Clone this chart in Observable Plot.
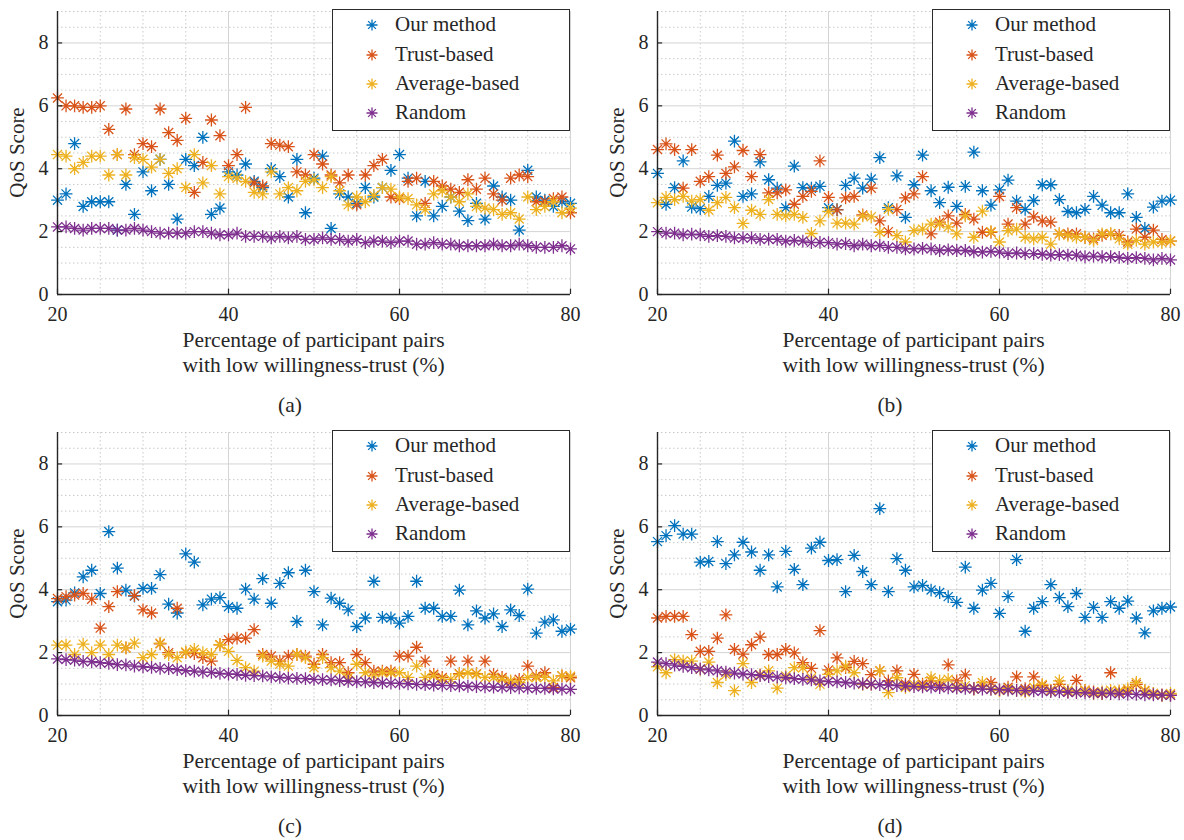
<!DOCTYPE html>
<html>
<head>
<meta charset="utf-8">
<script src="https://cdn.jsdelivr.net/npm/d3@7"></script>
<script src="https://cdn.jsdelivr.net/npm/@observablehq/plot@0.6"></script>
<style>
  body { margin: 0; background: #fff; }
  #fig { position: relative; width: 1184px; height: 840px; overflow: hidden; background: #fff;
         font-family: "Liberation Serif", "Times New Roman", "DejaVu Serif", serif; color: #262626; }
  .panel { position: absolute; }
  .xt { position: absolute; width: 513px; text-align: center; font-size: 21.5px; line-height: 25px; white-space: nowrap; }
  .cap { position: absolute; width: 100px; text-align: center; font-size: 21.5px; line-height: 25px; }
  .yl { position: absolute; width: 140px; height: 25px; line-height: 25px; text-align: center; font-size: 21px;
        transform: rotate(-90deg); white-space: nowrap; }
  .leg { position: absolute; width: 238px; height: 122px; border: 1.4px solid #2b2b2b; background: #fff; box-sizing: border-box; }
  .leg svg { position: absolute; overflow: visible; }
  .leg span { position: absolute; font-size: 21px; line-height: 25px; white-space: nowrap; }
</style>
</head>
<body>
<div id="fig"></div>
<script>
// ---------- data ----------
const xValues = [20,21,22,23,24,25,26,27,28,29,30,31,32,33,34,35,36,37,38,39,40,41,42,43,44,45,46,47,48,49,50,
                 51,52,53,54,55,56,57,58,59,60,61,62,63,64,65,66,67,68,69,70,71,72,73,74,75,76,77,78,79,80];
const seriesNames = ["Our method", "Trust-based", "Average-based", "Random"];
const seriesColors = ["#0072BD", "#D95319", "#EDB120", "#7E2F8E"];
const xTicks = [20, 40, 60, 80];
const yTicks = [0, 2, 4, 6, 8];
const xMinorTicks = [25, 30, 35, 45, 50, 55, 65, 70, 75];
const yMinorTicks = [0.5, 1, 1.5, 2.5, 3, 3.5, 4.5, 5, 5.5, 6.5, 7, 7.5, 8.5, 9];
const panelLabels = ["(a)", "(b)", "(c)", "(d)"];
const xTitle = ["Percentage of participant pairs", "with low willingness-trust (%)"];
const yTitle = "QoS Score";

// panel (a)
const aOurs = [3.0,3.2,4.8,2.8,2.95,2.95,2.95,2.05,3.5,2.55,3.9,3.3,4.3,3.5,2.4,4.3,4.1,5.0,2.55,2.75,3.9,3.8,4.15,3.6,3.4,4.0,3.75,3.1,4.3,2.6,3.7,4.4,2.1,3.2,3.1,2.9,3.4,3.1,3.4,3.95,4.45,3.7,2.5,3.6,2.5,2.8,3.1,2.65,2.35,2.9,2.4,3.45,3.1,3.0,2.05,3.95,3.1,3.0,2.8,2.95,2.9];
const aTrust = [6.25,6.0,6.0,5.95,5.95,6.0,5.25,4.45,5.9,4.45,4.8,4.7,5.9,5.15,4.9,5.6,3.25,4.2,5.55,5.05,4.1,4.45,5.95,3.55,3.45,4.8,4.75,4.7,3.9,3.8,4.45,4.15,3.8,3.55,3.8,2.85,3.8,4.1,4.3,3.1,3.05,3.6,3.7,2.9,3.6,3.45,3.35,3.25,3.65,3.35,3.7,3.2,3.0,3.7,3.8,3.75,2.95,2.95,3.05,3.1,2.6];
const aAverage = [4.45,4.4,4.0,4.2,4.4,4.4,3.8,4.45,3.8,4.35,4.3,4.05,4.3,3.85,4.0,3.4,4.45,3.55,4.1,3.2,3.75,3.7,3.6,3.25,3.2,3.9,3.2,3.4,3.3,3.6,3.65,3.4,3.75,3.3,2.85,3.1,2.95,3.15,3.4,3.35,3.1,3.05,2.85,2.7,3.2,3.3,3.1,2.95,3.2,2.8,2.75,2.7,2.55,2.6,2.4,3.1,2.7,2.8,2.95,2.6,2.75];
const aRandom = [2.15,2.15,2.1,2.05,2.1,2.1,2.1,2.05,2.05,2.1,2.05,2.0,1.95,1.95,1.95,1.95,2.0,2.0,1.95,1.9,1.9,1.95,1.85,1.85,1.85,1.8,1.85,1.8,1.85,1.75,1.75,1.8,1.75,1.75,1.7,1.75,1.65,1.7,1.7,1.65,1.7,1.7,1.6,1.6,1.65,1.6,1.6,1.55,1.55,1.55,1.55,1.6,1.55,1.55,1.6,1.55,1.5,1.5,1.5,1.55,1.45];

// panel (b)
const bOurs = [3.85,2.87,3.4,4.25,2.78,2.73,3.12,3.47,3.54,4.88,3.12,3.2,4.22,3.65,3.38,2.76,4.08,3.4,3.38,3.44,2.76,2.7,3.47,3.7,3.38,3.67,4.35,2.76,3.77,2.45,3.49,4.43,3.3,2.92,3.41,2.8,3.44,4.53,3.3,2.84,3.33,3.64,2.97,2.71,2.99,3.49,3.49,3.02,2.64,2.6,2.71,3.12,2.84,2.6,2.6,3.2,2.45,2.1,2.78,2.97,3.0];
const bTrust = [4.61,4.79,4.61,3.38,4.61,3.6,3.75,4.43,3.85,4.06,4.58,3.75,4.45,3.23,3.23,3.33,2.87,3.12,3.28,4.25,3.09,2.69,3.07,3.12,2.53,3.38,2.34,2.0,2.7,3.07,3.2,3.75,1.93,2.3,2.5,2.27,2.55,2.4,1.98,1.98,3.12,2.24,2.76,2.24,2.47,2.34,2.3,1.93,1.93,1.93,1.82,1.77,1.88,1.93,1.88,1.67,2.08,1.82,2.05,1.75,1.7];
const bAverage = [2.92,3.09,3.02,3.12,2.97,3.02,2.68,2.92,3.09,2.76,2.26,2.68,2.55,3.02,2.55,2.5,2.55,2.45,1.94,2.34,2.64,2.27,2.27,2.24,2.5,2.47,1.98,2.71,1.87,1.67,2.03,2.08,2.24,2.24,2.15,1.93,2.5,1.82,2.65,2.0,1.67,2.03,2.08,1.82,1.77,1.82,1.6,1.93,1.88,1.82,1.82,1.72,1.93,1.93,1.77,1.6,1.72,1.6,1.67,1.65,1.7];
const bRandom = [2.0,1.95,1.95,1.9,1.92,1.9,1.85,1.87,1.85,1.8,1.8,1.8,1.75,1.76,1.75,1.7,1.72,1.7,1.65,1.66,1.65,1.6,1.62,1.55,1.6,1.55,1.56,1.5,1.5,1.45,1.45,1.47,1.45,1.4,1.42,1.4,1.4,1.36,1.35,1.37,1.35,1.3,1.32,1.3,1.3,1.28,1.25,1.27,1.25,1.25,1.2,1.22,1.2,1.2,1.18,1.15,1.17,1.15,1.1,1.15,1.1];

// panel (c)
const cOurs = [3.62,3.67,3.9,4.41,4.62,3.88,5.85,4.69,3.99,3.8,4.04,4.04,4.48,3.54,3.26,5.14,4.88,3.52,3.7,3.75,3.46,3.41,4.02,3.7,4.35,3.57,4.2,4.54,2.99,4.62,3.94,2.88,3.73,3.57,3.36,2.83,3.1,4.27,3.12,3.1,2.94,3.15,4.27,3.41,3.41,3.15,3.15,3.99,2.88,3.33,3.1,3.23,2.83,3.36,3.18,4.02,2.62,2.97,3.04,2.68,2.75];
const cTrust = [3.72,3.78,3.83,3.88,3.7,2.78,3.46,3.94,2.15,3.81,3.36,3.26,2.28,2.0,3.41,2.0,1.97,1.84,1.73,2.25,2.41,2.46,2.46,2.73,1.94,1.89,1.73,1.89,1.94,1.89,1.63,1.94,1.68,1.68,1.36,1.94,1.68,1.41,1.41,1.41,1.89,1.89,2.17,1.73,1.31,1.21,1.73,1.33,1.73,1.33,1.73,1.31,1.21,1.05,1.15,1.57,1.26,1.36,0.89,1.26,1.2];
const cAverage = [2.24,2.24,1.94,2.27,2.0,2.24,1.94,2.24,2.15,2.3,1.84,1.94,2.3,1.94,1.84,2.02,2.1,2.0,1.94,2.25,2.04,1.75,1.52,1.41,1.89,1.73,1.63,1.57,1.94,1.84,1.52,1.84,1.52,1.41,1.21,1.63,1.36,1.26,1.36,1.36,1.36,1.21,1.57,1.21,1.26,1.15,1.15,1.31,1.36,1.31,1.21,1.21,1.15,1.1,1.05,1.21,1.21,1.21,1.1,1.26,1.25];
const cRandom = [1.8,1.78,1.76,1.72,1.71,1.68,1.66,1.62,1.61,1.57,1.55,1.53,1.5,1.49,1.46,1.43,1.41,1.38,1.37,1.34,1.32,1.31,1.28,1.27,1.26,1.23,1.21,1.19,1.18,1.17,1.15,1.14,1.13,1.11,1.09,1.08,1.07,1.05,1.04,1.03,1.02,1.01,0.99,0.98,0.97,0.96,0.95,0.94,0.93,0.92,0.91,0.9,0.9,0.89,0.88,0.87,0.86,0.86,0.85,0.84,0.83];

// panel (d)
const dOurs = [5.53,5.72,6.04,5.77,5.77,4.88,4.9,5.53,4.83,5.11,5.51,5.2,4.62,5.11,4.09,5.22,4.65,4.16,5.32,5.51,4.93,4.96,3.94,5.09,4.58,4.16,6.58,3.94,4.99,4.62,4.09,4.14,3.99,3.91,3.78,3.6,4.72,3.41,3.99,4.2,3.25,3.78,4.96,2.68,3.41,3.62,4.16,3.75,3.46,3.88,3.12,3.44,3.12,3.62,3.41,3.64,3.1,2.63,3.33,3.41,3.45];
const dTrust = [3.1,3.15,3.15,3.15,2.57,2.04,2.04,2.46,3.2,2.1,1.95,2.25,2.49,1.94,1.94,2.1,1.99,1.68,1.5,2.7,1.45,1.83,1.52,1.72,1.65,1.3,1.42,1.1,1.42,1.0,1.31,1.0,1.1,0.95,1.61,1.1,1.29,0.85,0.95,1.05,0.8,0.9,1.23,0.85,1.23,0.95,0.8,0.99,0.75,1.12,0.8,0.75,0.7,1.36,0.75,0.8,0.99,0.78,0.7,0.65,0.65];
const dAverage = [1.55,1.36,1.78,1.73,1.73,1.47,1.7,1.05,1.3,0.79,1.65,1.05,1.3,1.42,0.87,1.26,1.52,1.52,1.2,0.99,1.31,1.42,1.57,1.36,0.99,0.99,1.42,0.73,1.2,0.89,0.99,0.95,1.2,1.1,1.15,0.9,0.95,0.85,1.05,0.85,0.8,0.85,0.8,0.75,0.9,0.99,0.8,1.1,0.8,0.75,0.8,0.7,0.75,0.8,0.78,0.85,1.05,0.8,0.7,0.65,0.7];
const dRandom = [1.7,1.65,1.6,1.56,1.52,1.48,1.45,1.42,1.38,1.35,1.32,1.3,1.27,1.24,1.22,1.2,1.17,1.15,1.13,1.1,1.08,1.07,1.05,1.03,1.01,1.0,0.98,0.97,0.95,0.94,0.92,0.91,0.9,0.89,0.88,0.87,0.86,0.85,0.84,0.83,0.82,0.81,0.8,0.79,0.78,0.77,0.76,0.75,0.74,0.73,0.72,0.71,0.71,0.7,0.69,0.68,0.67,0.66,0.66,0.65,0.64];

const panels = [
  {series: [aOurs, aTrust, aAverage, aRandom], left: 0,   top: 0},
  {series: [bOurs, bTrust, bAverage, bRandom], left: 600, top: 0},
  {series: [cOurs, cTrust, cAverage, cRandom], left: 0,   top: 421},
  {series: [dOurs, dTrust, dAverage, dRandom], left: 600, top: 421}
];

// ---------- MATLAB-like "*" marker (plus + cross) ----------
const asterisk = {
  draw(ctx, size) {
    const r = Math.sqrt(size / Math.PI), d = r * Math.SQRT1_2;
    ctx.moveTo(-r, 0); ctx.lineTo(r, 0);
    ctx.moveTo(0, -r); ctx.lineTo(0, r);
    ctx.moveTo(-d, -d); ctx.lineTo(d, d);
    ctx.moveTo(-d, d); ctx.lineTo(d, -d);
  }
};
const starPath = (r) => { const d = r * Math.SQRT1_2;
  return `M${-r},0H${r}M0,${-r}V${r}M${-d},${-d}L${d},${d}M${-d},${d}L${d},${-d}`; };

const axisColor = "#262626";
const fig = document.getElementById("fig");

function makePlot(series) {
  const marks = [
    Plot.ruleX(xMinorTicks, {stroke: "#bdbdbd", strokeWidth: 0.8, strokeDasharray: "1.5,2.5"}),
    Plot.ruleY(yMinorTicks, {stroke: "#bdbdbd", strokeWidth: 0.8, strokeDasharray: "1.5,2.5"}),
    Plot.ruleX(xTicks, {stroke: "#d4d4d4", strokeWidth: 1}),
    Plot.ruleY(yTicks, {stroke: "#d4d4d4", strokeWidth: 1})
  ];
  series.forEach((vals, k) => {
    const rows = vals.map((v, i) => ({x: xValues[i], y: v}));
    marks.push(Plot.dot(rows, {x: "x", y: "y", symbol: asterisk, r: 6.4, fill: "none",
                               stroke: seriesColors[k], strokeWidth: 1.3}));
  });
  marks.push(
    Plot.ruleX([20], {stroke: axisColor, strokeWidth: 1.4}),
    Plot.ruleY([0], {stroke: axisColor, strokeWidth: 1.4}),
    Plot.ruleX(xTicks, {y1: 0, y2: 0.17, stroke: axisColor, strokeWidth: 1.2}),
    Plot.ruleY(yTicks, {x1: 20, x2: 20.6, stroke: axisColor, strokeWidth: 1.2})
  );
  return Plot.plot({
    width: 580, height: 330,
    marginLeft: 57, marginRight: 10, marginTop: 11, marginBottom: 36,
    style: {fontFamily: "'Liberation Serif', 'Times New Roman', serif", fontSize: "20px",
            color: axisColor, background: "transparent", overflow: "visible"},
    x: {domain: [20, 80], ticks: xTicks, tickSize: 0, tickPadding: 12, tickFormat: d => String(d), label: null},
    y: {domain: [0, 9], ticks: yTicks, tickSize: 0, tickPadding: 9, tickFormat: d => String(d), label: null},
    marks
  });
}

panels.forEach((p, idx) => {
  const wrap = document.createElement("div");
  wrap.className = "panel";
  wrap.style.left = p.left + "px";
  wrap.style.top = p.top + "px";
  wrap.appendChild(makePlot(p.series));
  fig.appendChild(wrap);

  // y title
  const yl = document.createElement("div");
  yl.className = "yl";
  yl.textContent = yTitle;
  yl.style.left = (p.left + 17 - 70) + "px";
  yl.style.top = (p.top + 152.5 - 12.5) + "px";
  fig.appendChild(yl);

  // x title (two lines)
  const xt = document.createElement("div");
  xt.className = "xt";
  xt.innerHTML = xTitle[0] + "<br>" + xTitle[1];
  xt.style.left = (p.left + 57) + "px";
  xt.style.top = (p.top + 328) + "px";
  fig.appendChild(xt);

  // panel caption
  const cap = document.createElement("div");
  cap.className = "cap";
  cap.textContent = panelLabels[idx];
  cap.style.left = (p.left + 240) + "px";
  cap.style.top = (p.top + 393) + "px";
  fig.appendChild(cap);

  // legend
  const leg = document.createElement("div");
  leg.className = "leg";
  leg.style.left = (p.left + 332) + "px";
  leg.style.top = (p.top + 9) + "px";
  const rowY = [15, 44.5, 74, 103];
  seriesNames.forEach((name, k) => {
    const svg = document.createElementNS("http://www.w3.org/2000/svg", "svg");
    svg.setAttribute("width", 14); svg.setAttribute("height", 14);
    svg.setAttribute("viewBox", "-7 -7 14 14");
    svg.style.left = (39 - 7) + "px";
    svg.style.top = (rowY[k] - 7) + "px";
    const path = document.createElementNS("http://www.w3.org/2000/svg", "path");
    path.setAttribute("d", starPath(5.5));
    path.setAttribute("stroke", seriesColors[k]);
    path.setAttribute("stroke-width", 1.3);
    path.setAttribute("fill", "none");
    svg.appendChild(path);
    leg.appendChild(svg);
    const span = document.createElement("span");
    span.textContent = name;
    span.style.left = "62px";
    span.style.top = (rowY[k] - 13) + "px";
    leg.appendChild(span);
  });
  fig.appendChild(leg);
});
</script>
</body>
</html>
